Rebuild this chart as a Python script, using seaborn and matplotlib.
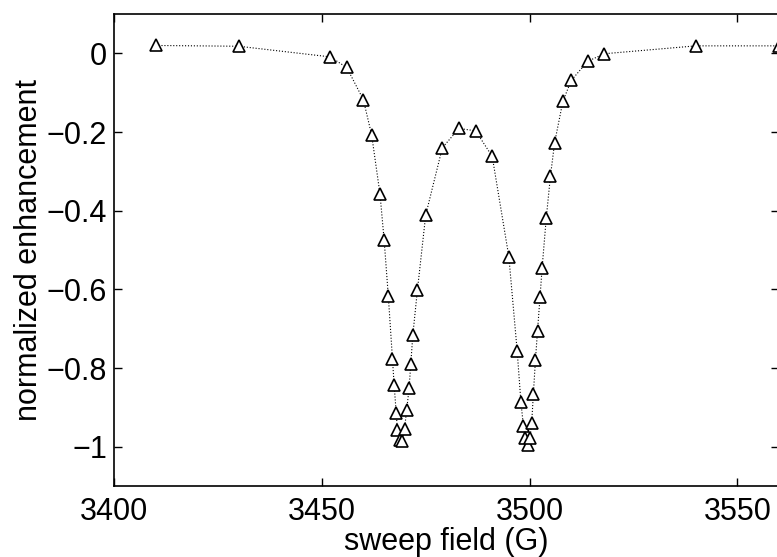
import matplotlib
matplotlib.use("Agg")
import matplotlib.pyplot as plt
import numpy as np
import pandas as pd
import seaborn as sns

# sweep field (G) and normalized enhancement
field = [3410, 3430, 3452, 3456, 3460, 3462, 3464, 3465, 3466, 3467,
         3467.4, 3467.9, 3468.2, 3468.8, 3469.4, 3469.9, 3470.4, 3471, 3471.4, 3471.9,
         3473, 3475, 3479, 3483, 3487, 3491, 3495, 3497, 3497.9, 3498.5,
         3498.9, 3499.5, 3500.1, 3500.5, 3500.9, 3501.4, 3501.9, 3502.5, 3503, 3504,
         3505, 3506, 3508, 3510, 3514, 3518, 3540, 3560]
enhancement = [0.020, 0.018, -0.009, -0.036, -0.118, -0.208, -0.358, -0.475, -0.617, -0.777,
               -0.843, -0.914, -0.958, -0.984, -0.986, -0.956, -0.908, -0.852, -0.790, -0.716,
               -0.602, -0.411, -0.240, -0.191, -0.197, -0.262, -0.517, -0.756, -0.886, -0.947,
               -0.977, -0.997, -0.978, -0.939, -0.866, -0.780, -0.705, -0.620, -0.546, -0.419,
               -0.313, -0.228, -0.122, -0.069, -0.020, -0.001, 0.019, 0.019]

x_ticks = [3400, 3450, 3500, 3550]
y_ticks = [-1, -0.8, -0.6, -0.4, -0.2, 0]
y_tick_labels = ["\u22121", "\u22120.8", "\u22120.6", "\u22120.4", "\u22120.2", "0"]

df = pd.DataFrame({"field": field, "enhancement": enhancement})

sns.set_style("ticks")
plt.rcParams["font.family"] = ["Liberation Sans", "DejaVu Sans"]
plt.rcParams["text.color"] = "black"
plt.rcParams["axes.labelcolor"] = "black"
plt.rcParams["xtick.color"] = "black"
plt.rcParams["ytick.color"] = "black"

fig = plt.figure(figsize=(7.77, 5.57), dpi=100)
ax = fig.add_axes([114 / 777, 1 - 486 / 557, 665 / 777, 472 / 557])

sns.lineplot(
    data=df, x="field", y="enhancement", ax=ax,
    color="black", linestyle=":", linewidth=0.8,
    marker="^", markersize=9, markerfacecolor="white",
    markeredgecolor="black", markeredgewidth=1.2,
)

ax.set_xlim(3400, 3560)
ax.set_ylim(-1.1, 0.1)
ax.set_xticks(x_ticks)
ax.set_yticks(y_ticks)
ax.set_yticklabels(y_tick_labels)
ax.set_xlabel("sweep field (G)", fontsize=22, labelpad=0)
ax.set_ylabel("normalized enhancement", fontsize=22, labelpad=2)
ax.tick_params(axis="both", direction="in", length=6, width=1, labelsize=22,
               top=True, right=True, colors="black")
ax.tick_params(axis="x", pad=8)
ax.tick_params(axis="y", pad=5)
for spine in ax.spines.values():
    spine.set_linewidth(1.2)
    spine.set_color("black")

fig.savefig("out.png", dpi=100)
